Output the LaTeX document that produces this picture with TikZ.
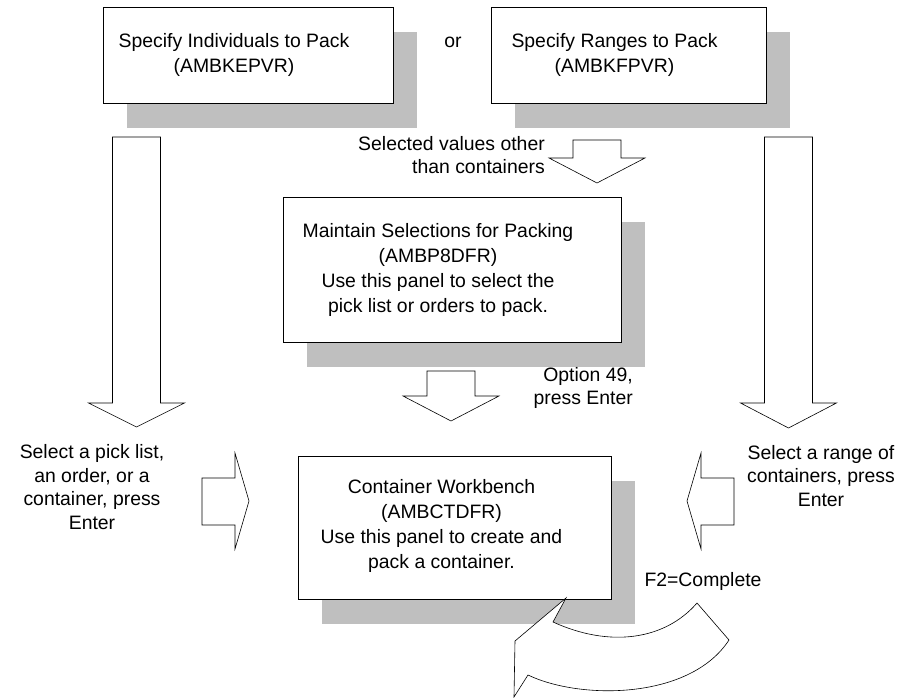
\documentclass[tikz,border=0pt]{standalone}
\usepackage{fontspec}
\setmainfont{Liberation Sans}
\usetikzlibrary{shadows}
\newcommand*{\downblock}[5]{% centre x, half shaft, top, head base, tip
  \draw[blockarrow] ({#1-#2},#3) -- ({#1+#2},#3) -- ({#1+#2},#4)
    -- ({#1+#2+24},#4) -- (#1,#5) -- ({#1-#2-24},#4) -- ({#1-#2},#4) -- cycle;}

\begin{document}
\begin{tikzpicture}[x=1pt,y=-1pt,
    every node/.style={inner sep=0pt,font=\fontsize{19.4}{25}\selectfont},
    note/.style={font=\fontsize{19.4}{23.5}\selectfont},
    panel/.style={draw,fill=white,line width=0.8pt,
      drop shadow={shadow xshift=24pt,shadow yshift=-25pt,fill=black!25,opacity=1}},
    blockarrow/.style={draw,fill=white,line width=0.6pt,line join=miter}]
  \useasboundingbox (0,0) rectangle (914,698);
  % panels
  \node[panel,minimum width=290pt,minimum height=96pt] (indiv) at (248,55) {};
  \node[align=center] (indivtext) at ([xshift=-14pt]indiv.center) {Specify Individuals to Pack\\(AMBKEPVR)};
  \node (or) at (453,42) {or};
  \node[panel,minimum width=275pt,minimum height=96pt] (ranges) at (628.5,55) {};
  \node[align=center] (rangestext) at ([xshift=-14pt]ranges.center) {Specify Ranges to Pack\\(AMBKFPVR)};
  \node[panel,minimum width=338pt,minimum height=145pt] (maint) at (452,269.5) {};
  \node[align=center] (mainttext) at ([xshift=-14pt]maint.center)
    {Maintain Selections for Packing\\(AMBP8DFR)\\Use this panel to select the\\pick list or orders to pack.};
  \node[panel,minimum width=313pt,minimum height=143pt] (bench) at (454.5,527.5) {};
  \node[align=center] (benchtext) at ([xshift=-13pt,yshift=2pt]bench.center)
    {Container Workbench\\(AMBCTDFR)\\Use this panel to create and\\pack a container.};
  % labels
  \node[note,align=right,anchor=east] (sel) at (545,155) {Selected values other\\than containers};
  \node[note,align=right,anchor=east] (opt) at (633,388) {Option 49,\\press Enter};
  \node[note,align=center] (pick) at (92,487) {Select a pick list,\\an order, or a\\container, press\\Enter};
  \node[note,align=center] (range) at (821,476) {Select a range of\\containers, press\\Enter};
  \node (done) at (703,581) {F2=Complete};
  % block arrows
  \downblock{136.5}{24}{137}{403}{427}
  \downblock{788.5}{24}{137}{403}{428}
  \downblock{597}{24}{140}{158}{183}
  \downblock{451}{24}{371}{396}{421}
  \draw[blockarrow] (202,478) -- (235,478) -- (235,453) -- (249,501)
    -- (235,549) -- (235,525) -- (202,525) -- cycle;
  \draw[blockarrow] (734,478) -- (701,478) -- (701,453) -- (687,501)
    -- (701,549) -- (701,525) -- (734,525) -- cycle;
  % F2 return arrow
  \draw[blockarrow] (566,598) -- (515,641) -- (514,697) -- (528,675)
    .. controls (580,700) and (690,700) .. (729,640) -- (697,603)
    .. controls (665,640) and (610,648) .. (553,622) -- cycle;
\end{tikzpicture}
\end{document}
